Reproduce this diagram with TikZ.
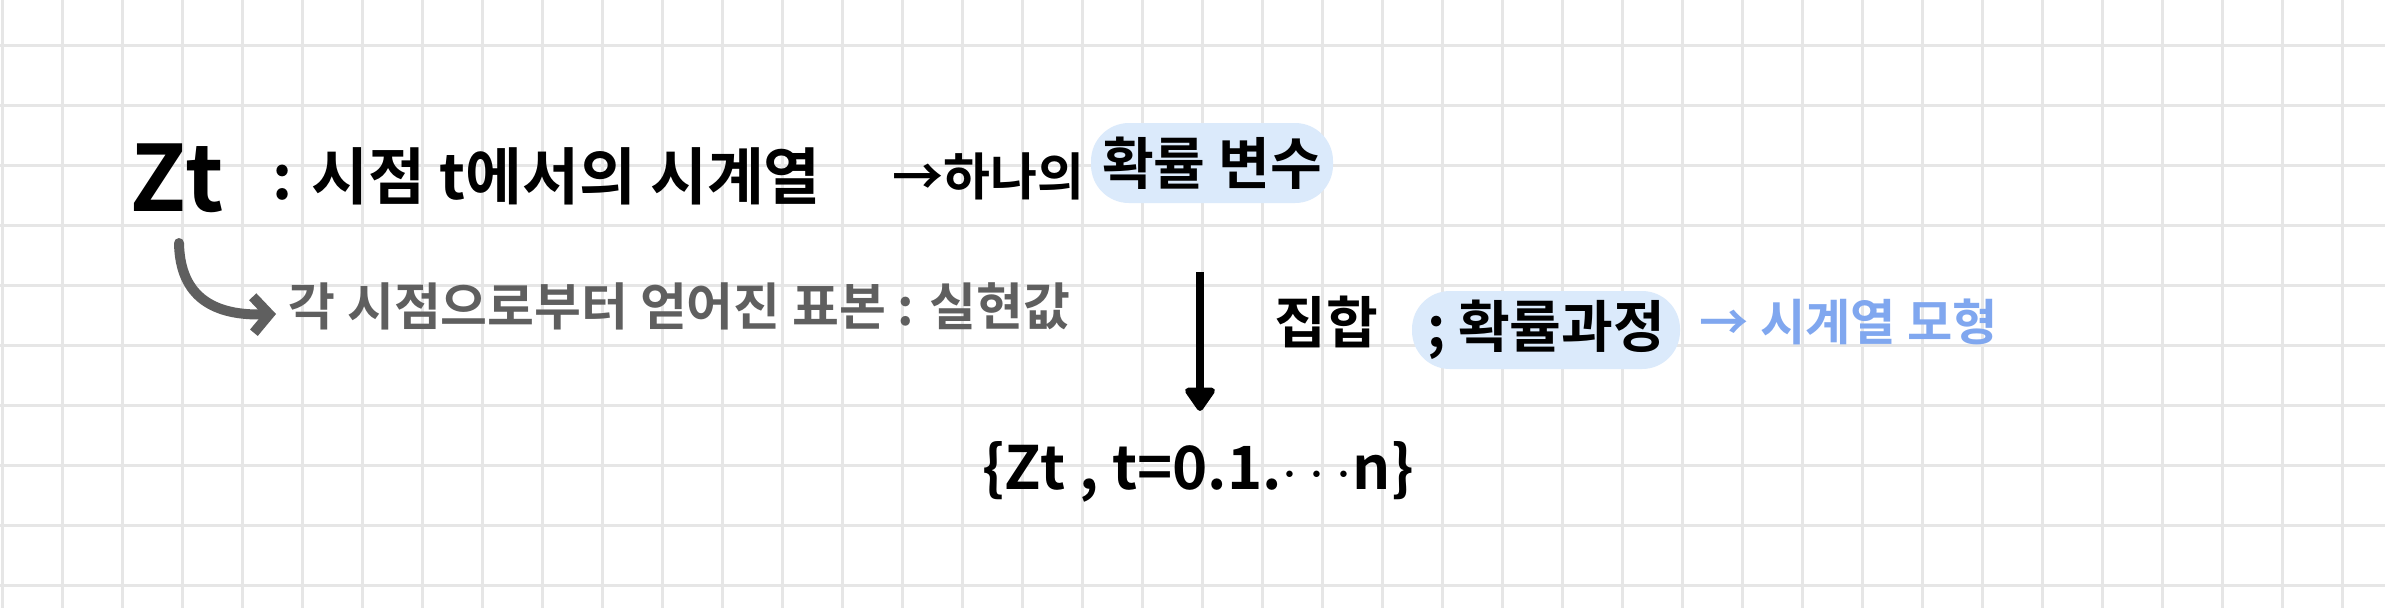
\documentclass[tikz,border=0pt]{standalone}
\usepackage{fontspec}
\setmainfont{Noto Sans CJK KR}[BoldFont={Noto Sans CJK KR Bold}]
\usetikzlibrary{arrows.meta}

\definecolor{gridgray}{RGB}{230,230,230}
\definecolor{pengray}{RGB}{95,95,95}
\definecolor{markblue}{RGB}{219,234,251}
\definecolor{penblue}{RGB}{128,167,239}

\begin{document}
\begin{tikzpicture}[
  every node/.style={inner sep=0pt},
  pen/.style={font=\fontsize{16}{18}\selectfont\bfseries},
  marker/.style={fill=markblue, rounded corners=0.38cm},
 ]
\fill [white] (0,0) rectangle (23.85,6.08);
\useasboundingbox (0,0) rectangle (23.85,6.08);

% squared paper
\draw [gridgray, line width=0.03cm, step=0.6, shift={(0.02,0.223)}] (-0.02,-0.223) grid (23.83,5.857);

% first line : one random variable
\node [anchor=west, font=\fontsize{26}{28}\selectfont\bfseries] (zt) at (1.30,4.30) {Zt};
\node [pen, anchor=west, font=\fontsize{17.6}{20}\selectfont\bfseries] (def) at (2.72,4.32) {: 시점 t에서의 시계열};
\node [pen, anchor=west, font=\fontsize{14.5}{18}\selectfont\bfseries] (rv) at (8.92,4.32) {→하나의};
\node [pen, marker, minimum width=2.42cm, minimum height=0.80cm] (rvmark) at (12.12,4.45) {확률 변수};

% second line : sample, in gray
\coordinate (curl) at (1.79,3.65);
\node [pen, anchor=west, pengray, font=\fontsize{14.5}{16}\selectfont\bfseries] (sample) at (2.88,3.02) {각 시점으로부터 얻어진 표본 : 실현값};
\draw [pengray, line width=0.1cm, line cap=round, line join=round,
       -{Straight Barb[length=1.6mm,width=3.6mm]}]
  (curl) .. controls (1.80,3.10) and (2.15,2.92) .. ([shift={(-0.12,-0.08)}]sample.west);

% collection of variables : process
\coordinate (drop) at (12.0,3.36);
\node [pen, anchor=west] (coll) at (12.74,2.86) {집합};
\node [pen, marker, minimum width=2.68cm, minimum height=0.78cm] (procmark) at (15.46,2.78) {; 확률과정};
\node [pen, anchor=west, penblue, font=\fontsize{14}{16}\selectfont\bfseries] (model) at (16.99,2.86) {→ 시계열 모형};

\node [pen, font=\fontsize{17}{20}\selectfont\bfseries] (set) at (11.98,1.36) {\{Zt , t=0.1.$\cdots$n\}};
\draw [line width=0.08cm, -{Triangle[length=2.6mm,width=3.4mm,round]}, shorten >=0.3cm]
  (drop) -- (drop |- set.north);

\end{tikzpicture}
\end{document}
